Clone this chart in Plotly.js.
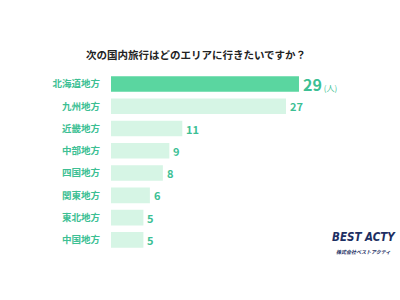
<!DOCTYPE html>
<html><head><meta charset="utf-8">
<script src="https://cdn.plot.ly/plotly-3.0.1.min.js"></script>
<style>html,body{margin:0;padding:0;background:#fff}#c{width:400px;height:300px}</style>
</head><body><div id="c"></div>
<script>
const categories = ['北海道地方','九州地方','近畿地方','中部地方','四国地方','関東地方','東北地方','中国地方'];
const values = [29, 27, 11, 9, 8, 6, 5, 5];
const unit = '(人)';
const title = '次の国内旅行はどのエリアに行きたいですか？';

const green = '#3dbf94';
const colors = values.map((v,i)=> i===0 ? '#5ad6a0' : '#d6f5e5');
const font = '"Noto Sans CJK JP", "Noto Sans", sans-serif';

const annotations = values.map((v,i)=>({
  x: v, y: categories[i], xref:'x', yref:'y', xanchor:'left', yanchor:'middle',
  xshift: 2, showarrow:false,
  text: i===0 ? `<b>${v}</b><span style="font-size:8px"> ${unit}</span>` : `<b>${v}</b>`,
  font:{family:font, size: i===0 ? 16 : 11, color: green}
}));
annotations.push({xref:'paper', yref:'paper', x:0.94, y:0.075, xanchor:'center', yanchor:'middle', showarrow:false, borderpad:0,
  text:'<b><i>BEST ACTY</i></b>', font:{family:'"Liberation Sans Narrow", "DejaVu Sans Condensed", sans-serif', size:11.5, color:'#1d2f63'}});
annotations.push({xref:'paper', yref:'paper', x:0.94, y:0.0, xanchor:'center', yanchor:'middle', showarrow:false, borderpad:0,
  text:'<b><i>株式会社ベストアクティ</i></b>', font:{family:font, size:5, color:'#1d2f63'}});

Plotly.newPlot('c', [{
  type:'bar', orientation:'h', x: values, y: categories,
  marker:{color: colors, line:{width:0}}, hoverinfo:'none'
}], {
  width:400, height:300,
  margin:{l:111, r:20, t:70, b:49},
  paper_bgcolor:'#fff', plot_bgcolor:'#fff',
  bargap:0.3,
  showlegend:false,
  title:{text:'<b>'+title+'</b>', x:0.49, xanchor:'center', y:0.815, yanchor:'middle', font:{family:font, size:10.5, color:'#222'}},
  xaxis:{range:[0,41.5], visible:false, fixedrange:true},
  yaxis:{autorange:'reversed', showgrid:false, showline:false, zeroline:false, ticks:'', ticklabelstandoff:10,
    tickfont:{family:font, size:9.5, color:green, weight:'bold'}, fixedrange:true},
  annotations: annotations
}, {staticPlot:true, displayModeBar:false});
</script></body></html>
